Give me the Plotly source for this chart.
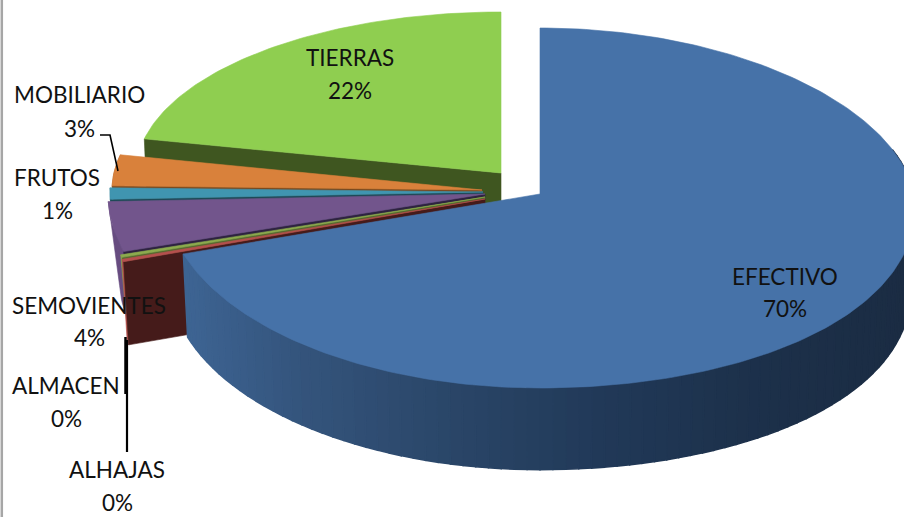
import math
import plotly.graph_objects as go

# ---- data ----
names = ["EFECTIVO", "ALHAJAS", "ALMACEN", "SEMOVIENTES", "FRUTOS", "MOBILIARIO", "TIERRAS"]
values = [70.0, 0.2, 0.2, 4.0, 1.0, 3.0, 21.6]

# ---- style / projection of the 3-D pie ----
top_colors = ["#4672A8", "#B5504E", "#8CAB4E", "#72558C", "#4095B0", "#D9813B", "#8FCE50"]
wall_colors = ["#27405F", "#451B1A", "#55692F", "#2E2340", "#1E4A57", "#7A4A20", "#3F5620"]
side_colors = ["#27405F", "#B5504E", "#8CAB4E", "#674C80", "#2E7285", "#A9642D", "#3F5620"]
apex_x = [540, 485, 485, 485, 483, 482, 501]
apex_y = [194, 199, 197, 194, 192, 190, 173]
rad_x = [375, 380, 380, 377, 373, 370, 365]
rad_back = [166, 166, 166, 166, 166, 166, 161]
rad_front = [194, 203, 203, 202, 194, 194, 194]
rim_shift = [14, 0, 0, 0, 0, 0, 0]
depth = 84
wall_scale = [0.988, 0.986, 0.98, 0.97, 0.97, 0.97, 0.99]

label_x = [785, 117, 66, 89, 57, 79, 350]
label_y1 = [276, 469, 385, 305, 177, 94, 57]
label_y2 = [308, 502, 418, 337, 210, 128, 90]

leaders = [
    ([100, 110, 118], [135, 135, 171], 1.6),
    ([125.5, 125.5], [337, 394], 2.5),
    ([127, 127], [340, 452], 2.2),
]

gradient_x = [180, 300, 450, 600, 760, 904]
gradient_c = [(62, 101, 148), (52, 84, 124), (42, 70, 104), (33, 57, 88), (28, 48, 74), (27, 44, 67)]

total = sum(values)
cum = [0.0]
for v in values:
    cum.append(cum[-1] + v / total * 360.0)


def rim(i, deg, scale=1.0, dz=0.0):
    t = math.radians(deg)
    c = math.cos(t)
    s = math.sin(t)
    b = rad_back[i] if c > 0 else rad_front[i]
    shift = rim_shift[i] * s * s if s > 0 else 0.0
    return (apex_x[i] + rad_x[i] * scale * s,
            apex_y[i] - b * scale * c + shift + dz)


def arc(i, d0, d1, scale=1.0, dz=0.0):
    n = max(2, int(abs(d1 - d0) / 1.0) + 1)
    return [rim(i, d0 + (d1 - d0) * k / (n - 1), scale, dz) for k in range(n)]


def grad(x):
    if x <= gradient_x[0]:
        c = gradient_c[0]
    elif x >= gradient_x[-1]:
        c = gradient_c[-1]
    else:
        for j in range(len(gradient_x) - 1):
            if gradient_x[j] <= x <= gradient_x[j + 1]:
                f = (x - gradient_x[j]) / (gradient_x[j + 1] - gradient_x[j])
                c = tuple(gradient_c[j][k] + f * (gradient_c[j + 1][k] - gradient_c[j][k]) for k in range(3))
                break
    return "rgb(%d,%d,%d)" % tuple(round(v) for v in c)


fig = go.Figure()


def poly(pts, color, lw=0.6):
    fig.add_trace(go.Scatter(
        x=[p[0] for p in pts] + [pts[0][0]],
        y=[p[1] for p in pts] + [pts[0][1]],
        mode="lines", fill="toself", fillcolor=color,
        line=dict(color=color, width=lw),
        hoverinfo="skip", showlegend=False))


# back-to-front: tierras first, blue last
for i in [6, 5, 4, 3, 2, 1]:
    d0, d1 = cum[i], cum[i + 1]
    a = (apex_x[i], apex_y[i])
    # outer wall
    if i != 6:
        poly(arc(i, d0, d1) + arc(i, d1, d0, wall_scale[i], depth), side_colors[i])
    # radial wall on the front-facing cut
    r0 = rim(i, d0)
    r1 = rim(i, d0, wall_scale[i], depth)
    poly([a, r0, r1, (a[0], a[1] + depth)], wall_colors[i])
    # top face
    poly([a] + arc(i, d0, d1), top_colors[i])

# main slice: shaded outer wall, then top
step = 2.0
deg = 70.0
while deg < cum[1]:
    nxt = min(deg + step, cum[1])
    quad = arc(0, deg, nxt) + arc(0, nxt, deg, wall_scale[0], depth)
    poly(quad, grad(sum(p[0] for p in quad) / len(quad)), 1.5)
    deg = nxt
poly([(apex_x[0], apex_y[0])] + arc(0, cum[0], cum[1]), top_colors[0])

for lx, ly, w in leaders:
    fig.add_trace(go.Scatter(x=lx, y=ly, mode="lines", line=dict(color="#000000", width=w),
                             hoverinfo="skip", showlegend=False))

font = dict(family="Lato, Carlito, Calibri, sans-serif", size=22.5, color="#111111")
for n, v, x, y1, y2 in zip(names, values, label_x, label_y1, label_y2):
    fig.add_annotation(x=x, y=y1, text=n, showarrow=False, font=font, xanchor="center", yanchor="middle")
    fig.add_annotation(x=x, y=y2, text="%d%%" % round(v), showarrow=False, font=font, xanchor="center", yanchor="middle")

fig.add_shape(type="line", xref="paper", yref="paper", x0=0.002, x1=0.002, y0=0, y1=1,
              line=dict(color="#A6A6A6", width=2.5))

fig.update_layout(
    width=904, height=517, margin=dict(l=0, r=0, t=0, b=0),
    paper_bgcolor="#FFFFFF", plot_bgcolor="#FFFFFF", showlegend=False,
    xaxis=dict(range=[0, 904], visible=False, fixedrange=True),
    yaxis=dict(range=[517, 0], visible=False, fixedrange=True),
)
fig.write_html("out.html", config={"displayModeBar": False},
               post_script="document.body.style.margin='0';document.body.style.overflow='hidden';")
